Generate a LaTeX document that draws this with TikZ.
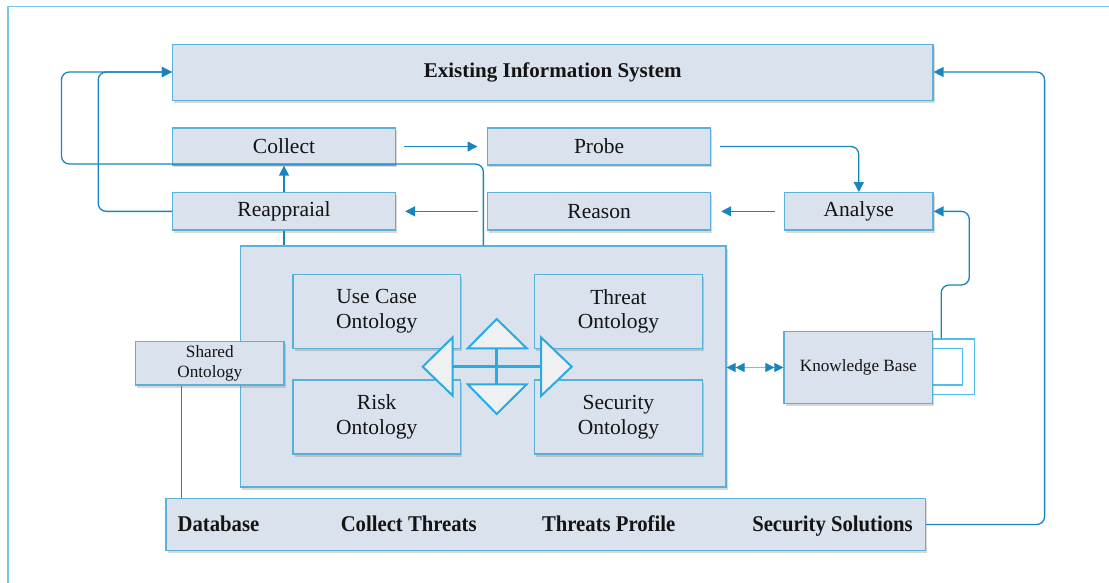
\documentclass[tikz,border=0pt]{standalone}
\usepackage{fontspec}
\setmainfont{Liberation Serif}
\usetikzlibrary{arrows.meta,shadows}

\definecolor{boxfill}{RGB}{218,226,237}
\definecolor{boxline}{RGB}{91,176,216}
\definecolor{connblue}{RGB}{24,133,190}
\definecolor{loopblue}{RGB}{80,188,236}
\definecolor{arrcyan}{RGB}{41,171,226}
\definecolor{arrfill}{RGB}{239,240,242}
\definecolor{framec}{RGB}{120,194,228}
\definecolor{ink}{RGB}{20,20,20}

\begin{document}
\begin{tikzpicture}[x=1pt,y=-1pt,
  box/.style={draw=boxline, line width=1.2pt, fill=boxfill, inner sep=0pt,
    text=ink, align=center, font=\fontsize{21.5}{24.5}\selectfont,
    drop shadow={shadow xshift=1.5pt, shadow yshift=-2.5pt, opacity=0.22, fill=black!70}},
  smallbox/.style={box, font=\fontsize{17.2}{19.5}\selectfont},
  bartext/.style={text=ink, inner sep=0pt, anchor=base, font=\fontsize{22.5}{26}\selectfont\bfseries},
  conn/.style={draw=connblue, line width=1.3pt, rounded corners=8pt},
  arr/.style={-{Triangle[length=10pt,width=10pt]}},
  looprect/.style={draw=loopblue, line width=1.1pt, inner sep=0pt},
  kbtip/.tip={Triangle[length=9pt,width=9pt,color=connblue]},
]
\useasboundingbox (0,0) rectangle (1109,583);

% page frame
\draw[framec, line width=1.3pt] (7.9,583) -- (7.9,6.4) -- (1109,6.4);

% top system box
\node[box, minimum width=760.5pt, minimum height=56.6pt,
      font=\fontsize{21}{24.5}\selectfont\bfseries] (eis) at (552.75,72.5) {Existing Information System};

% process steps
\node[box, minimum width=223pt, minimum height=37pt] (collect) at (284,146.5) {Collect};
\node[box, minimum width=223pt, minimum height=37pt] (probe) at (599.1,146.5) {Probe};
\node[box, minimum width=223pt, minimum height=37.3pt] (reapp) at (284,211.35) {Reappraial};
\node[box, minimum width=223pt, minimum height=37.3pt] (reason) at (599.1,211.35) {Reason};
\node[box, minimum width=148.4pt, minimum height=37.3pt] (analyse) at (858.8,211.35) {Analyse};

% ontology container
\node[box, minimum width=485.3pt, minimum height=241pt] (big) at (483.35,366.5) {};
\node[box, minimum width=167.3pt, minimum height=74pt] (usecase) at (376.65,311.3) {Use Case\\Ontology};
\node[box, minimum width=167.3pt, minimum height=74pt] (risk) at (376.65,417) {Risk\\Ontology};
\node[box, minimum width=167.8pt, minimum height=74pt] (threat) at (618.4,311.3) {Threat\\Ontology};
\node[box, minimum width=167.8pt, minimum height=74pt] (security) at (618.4,417) {Security\\Ontology};
\node[smallbox, minimum width=148.3pt, minimum height=43.3pt] (shared) at (209.85,363.35) {Shared\\Ontology};

% four-way arrow between the ontologies
\begin{scope}[draw=arrcyan, fill=arrfill, line width=2pt, line join=miter]
  \draw[line width=3pt] (452.7,366.7) -- (541,366.7);
  \draw[line width=3pt] (496.7,348.3) -- (496.7,384.3);
  \filldraw (422.7,366.7) -- (452.7,337.3) -- (452.7,395.7) -- cycle;
  \filldraw (571.7,366.7) -- (541,337.3) -- (541,396) -- cycle;
  \filldraw (496.7,319) -- (467.7,348.3) -- (526.7,348.3) -- cycle;
  \filldraw (496.7,414) -- (467.7,384.3) -- (526.7,384.3) -- cycle;
\end{scope}

% knowledge base with its self loop
\node[looprect, minimum width=49.3pt, minimum height=55.3pt] (kbouter) at (949.65,366.65) {};
\node[looprect, minimum width=37.3pt, minimum height=36.7pt] (kbinner) at (943.65,366.65) {};
\node[smallbox, minimum width=148.7pt, minimum height=71.6pt] (kb) at (858.35,367.5) {Knowledge Base};

% bottom bar
\node[box, minimum width=759.5pt, minimum height=52.4pt] (bar) at (545.75,524.5) {};
\node[bartext] (db) at (218.5,531) {\scalebox{0.92}[1]{Database}};
\node[bartext] (ct) at (408.7,531) {\scalebox{0.92}[1]{Collect Threats}};
\node[bartext] (tp) at (608.7,531) {\scalebox{0.92}[1]{Threats Profile}};
\node[bartext] (ss) at (832.5,531) {\scalebox{0.92}[1]{Security Solutions}};

% waypoints
\coordinate (la) at (61.4,164);
\coordinate (lb) at (98.2,72);
\coordinate (rr) at (1044.6,72);
\coordinate (kr) at (969.3,285);

% connectors
\draw[conn, arr, shorten <=8pt, shorten >=9.5pt] (collect.east) -- (probe.west);
\draw[conn, arr, shorten <=9pt] (probe.east) -| (analyse.north);
\draw[conn, arr, shorten <=9pt, shorten >=10pt] (analyse.west) -- (reason.east);
\draw[conn, arr, shorten <=9pt, shorten >=9pt] (reason.west) -- (reapp.east);
\draw[conn, arr] (reapp.north) -- (collect.south);
\draw[conn] (reapp.south) -- (reapp.south |- big.north);
\draw[conn, arr] (big.north) |- (la) |- (lb -| eis.west);
\draw[conn, arr] (reapp.west) -| (lb) -- (lb -| eis.west);
\draw[conn, arr] (bar.east) -| (rr) -- (rr -| eis.east);
\draw[conn, arr] (kbouter.north west) ++(16.7,0) |- (kr) |- (analyse.east);
\draw[draw=connblue!55, line width=1pt, {kbtip[]kbtip[]}-{kbtip[]kbtip[]}]
      (kb.west -| big.east) -- (kb.west);
\draw[conn] (181.7,0 |- shared.south) -- (181.7,0 |- bar.north);
\end{tikzpicture}
\end{document}
